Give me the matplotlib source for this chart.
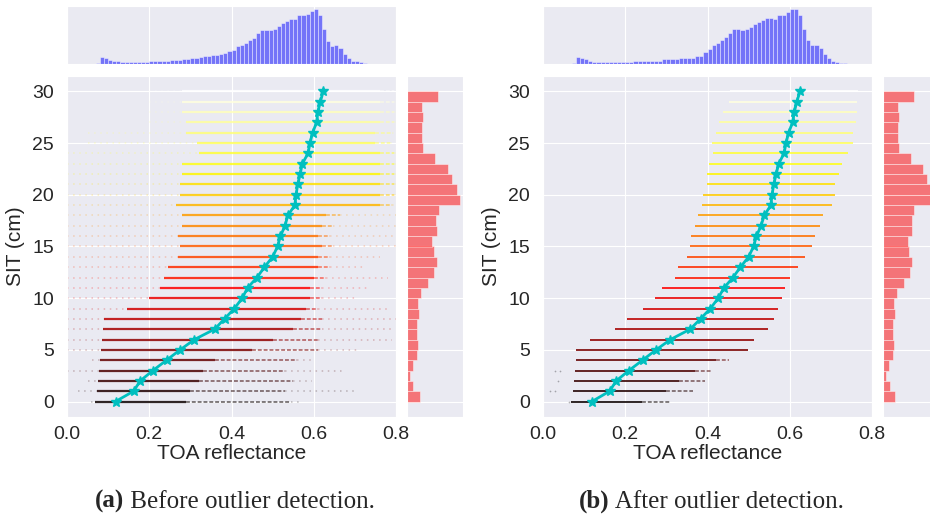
import numpy as np
import matplotlib
matplotlib.use("Agg")
import matplotlib.pyplot as plt
import seaborn as sns

# ---- data ----
sit = list(range(31))

mean_a = [0.118, 0.162, 0.178, 0.209, 0.242, 0.275, 0.310, 0.359, 0.383, 0.407,
          0.426, 0.439, 0.462, 0.480, 0.500, 0.512, 0.519, 0.530, 0.537, 0.554,
          0.557, 0.561, 0.567, 0.572, 0.586, 0.591, 0.597, 0.607, 0.610, 0.616, 0.623]
mean_b = [0.119, 0.162, 0.178, 0.209, 0.242, 0.275, 0.310, 0.358, 0.383, 0.407,
          0.426, 0.440, 0.462, 0.480, 0.500, 0.512, 0.519, 0.530, 0.538, 0.554,
          0.557, 0.561, 0.567, 0.573, 0.586, 0.591, 0.597, 0.607, 0.611, 0.617, 0.625]

# before outlier detection: sparse tail / dense core / speckled end per SIT row
a_tail_lo = [0.058, 0.027, 0.050, 0.000, 0.060, 0.0, 0.0, 0.0, 0.0, 0.0,
             0.0, 0.0, 0.0, 0.0, 0.0, 0.0, 0.0, 0.0, 0.0, 0.0,
             0.0, 0.0, 0.0, 0.0, 0.0, 0.05, 0.05, 0.20, 0.20, 0.20, 0.20]
a_core_lo = [0.068, 0.072, 0.076, 0.079, 0.080, 0.082, 0.084, 0.088, 0.090, 0.145,
             0.200, 0.225, 0.235, 0.245, 0.270, 0.275, 0.270, 0.280, 0.280, 0.266,
             0.275, 0.275, 0.280, 0.280, 0.320, 0.315, 0.290, 0.290, 0.280, 0.280, 0.280]
a_mid = [0.29, 0.30, 0.32, 0.33, 0.36, 0.45, 0.50, 0.55, 0.57, 0.58,
         0.59, 0.59, 0.60, 0.61, 0.61, 0.62, 0.61, 0.62, 0.63, 0.76,
         0.76, 0.76, 0.76, 0.76, 0.76, 0.75, 0.75, 0.76, 0.76, 0.76, 0.76]
a_core_hi = [0.545, 0.530, 0.550, 0.530, 0.560, 0.610, 0.610, 0.620, 0.620, 0.610,
             0.620, 0.620, 0.630, 0.640, 0.640, 0.648, 0.640, 0.648, 0.664, 0.790,
             0.795, 0.795, 0.795, 0.795, 0.795, 0.786, 0.790, 0.794, 0.794, 0.794, 0.794]
a_tail_hi = [0.563, 0.700, 0.595, 0.675, 0.600, 0.713, 0.790, 0.790, 0.800, 0.780,
             0.700, 0.730, 0.780, 0.720, 0.760, 0.800, 0.800, 0.800, 0.800, 0.800,
             0.800, 0.800, 0.800, 0.800, 0.800, 0.800, 0.800, 0.800, 0.800, 0.800, 0.800]

# after outlier detection: one range per SIT row
b_lo = [0.069, 0.072, 0.076, 0.077, 0.080, 0.080, 0.115, 0.175, 0.204, 0.242,
        0.272, 0.290, 0.320, 0.328, 0.349, 0.358, 0.359, 0.370, 0.376, 0.387,
        0.389, 0.398, 0.399, 0.403, 0.414, 0.410, 0.420, 0.428, 0.438, 0.452, 0.455]
b_mid = [0.24, 0.30, 0.33, 0.37, 0.42, 0.499, 0.513, 0.548, 0.562, 0.571,
         0.581, 0.588, 0.601, 0.620, 0.636, 0.653, 0.661, 0.674, 0.680, 0.703,
         0.709, 0.711, 0.720, 0.726, 0.741, 0.755, 0.755, 0.761, 0.763, 0.764, 0.765]
b_hi = [0.310, 0.365, 0.394, 0.412, 0.453, 0.499, 0.513, 0.548, 0.562, 0.571,
        0.581, 0.588, 0.601, 0.620, 0.636, 0.653, 0.661, 0.674, 0.680, 0.703,
        0.709, 0.711, 0.720, 0.726, 0.741, 0.755, 0.755, 0.761, 0.763, 0.764, 0.765]
b_out_x = [0.063, 0.018, 0.028, 0.036, 0.030, 0.042]
b_out_y = [0, 1, 1, 2, 3, 3]

# reflectance histograms, 80 bins of 0.01
refl_edges = np.linspace(0.0, 0.8, 81)
top_a = ([0.3] * 7 + [2, 21, 18, 13, 10, 8] + [7] * 7 +
         [8, 9, 9, 10, 10, 11, 12, 13, 14, 15, 17, 19, 21, 23, 25, 27, 28, 31, 33,
          40, 43, 53, 58, 63, 71, 78, 92, 103, 103, 103, 105, 113, 121, 128, 133,
          135, 145, 147, 150, 158, 165, 146, 105, 69, 53, 56, 48, 31, 18, 10, 8, 7, 2]
         + [1] * 6 + [0.5])
top_b = ([0.3] * 7 + [3, 21, 19, 15, 10] + [7] * 6 + [6] * 4 + [9] * 7 + [14] * 4 +
         [18] * 4 + [23, 23, 37, 46, 56, 63, 71, 80, 93, 104, 105, 101, 105, 110,
                     120, 125, 132, 137, 138, 135, 145, 145, 153, 162, 164, 145, 105,
                     70, 56, 56, 48, 30, 18, 10, 6, 3, 2]
         + [1] * 5 + [0.5])

# SIT histograms, bins [k, k+1) for k = 0..29
sit_edges = list(range(30))
right_a = [38, 19, 8, 17, 29, 34, 31, 31, 36, 33, 42, 63, 82, 89, 80, 75, 89, 86, 96,
           160, 149, 135, 123, 84, 48, 45, 45, 48, 45, 93]
right_b = [37, 21, 9, 19, 30, 35, 32, 32, 38, 35, 44, 65, 83, 90, 80, 76, 90, 88, 96,
           163, 152, 135, 123, 85, 49, 46, 46, 49, 46, 96]

captions = [("(a)", " Before outlier detection."), ("(b)", " After outlier detection.")]

W, H = 930, 518
cmap = plt.get_cmap("hot")
norm = plt.Normalize(0, 30)


def make_panel(fig, x0, hist_x, hist_y):
    ax = fig.add_axes([x0 / W, 101 / H, 329 / W, 341 / H])
    ax_top = fig.add_axes([x0 / W, 454 / H, 329 / W, 58 / H], sharex=ax)
    ax_rt = fig.add_axes([(x0 + 340) / W, 101 / H, 56 / W, 341 / H], sharey=ax)

    ax_top.bar(refl_edges[:-1], hist_x, width=0.01, align="edge", color="b",
               alpha=0.5, edgecolor="white", linewidth=0.6)
    ax_rt.barh(sit_edges, hist_y, height=1, align="edge", color="r",
               alpha=0.5, edgecolor="white", linewidth=0.6)
    ax_top.set_yticks([])
    ax_top.tick_params(labelbottom=False)
    ax_rt.set_xticks([])
    ax_rt.tick_params(labelleft=False)

    ax.set_xlim(0, 0.8)
    ax.set_ylim(-1.5, 31.5)
    ax.set_xticks([0.0, 0.2, 0.4, 0.6, 0.8])
    ax.set_yticks([0, 5, 10, 15, 20, 25, 30])
    ax.tick_params(axis="x", labelsize=14, pad=3)
    ax.tick_params(axis="y", labelsize=14, pad=6)
    ax.set_xlabel("TOA reflectance", fontsize=15, labelpad=1)
    ax.set_ylabel("SIT (cm)", fontsize=15, labelpad=5)
    return ax


def main():
    sns.set_style("darkgrid")
    plt.rcParams["font.family"] = ["Liberation Sans", "DejaVu Sans"]

    fig = plt.figure(figsize=(W / 100, H / 100), dpi=100)

    # (a) before
    ax = make_panel(fig, 67, top_a, right_a)
    for s, tl, cl, m, ch, th in zip(sit, a_tail_lo, a_core_lo, a_mid, a_core_hi, a_tail_hi):
        c = cmap(norm(s))
        ax.hlines(s, tl, cl, color=c, lw=1.1, alpha=0.25, linestyles=(0, (1, 3)))
        ax.hlines(s, ch, th, color=c, lw=1.1, alpha=0.25, linestyles=(0, (1, 3)))
        ax.hlines(s, m, ch, color=c, lw=1.4, alpha=0.5, linestyles=(0, (2, 1)))
        ax.hlines(s, cl, m, color=c, lw=1.6, alpha=0.85)
    ax.plot(mean_a, sit, color="c", lw=2, marker="*", markersize=7)

    # (b) after
    ax = make_panel(fig, 543, top_b, right_b)
    for s, lo, m, hi in zip(sit, b_lo, b_mid, b_hi):
        c = cmap(norm(s))
        ax.hlines(s, m, hi, color=c, lw=1.4, alpha=0.5, linestyles=(0, (2, 1)))
        ax.hlines(s, lo, m, color=c, lw=1.4, alpha=0.85)
    ax.scatter(b_out_x, b_out_y, s=1.5, color="black", alpha=0.3, linewidths=0)
    ax.plot(mean_b, sit, color="c", lw=2, marker="*", markersize=7)

    for (tag, text), xc in zip(captions, [95, 579]):
        t = fig.text(xc / W, 0.010, tag, fontfamily="Liberation Serif",
                     fontweight="bold", fontsize=18, va="bottom")
        ax.annotate(text, xy=(1, 0), xycoords=t, va="bottom", ha="left",
                    fontfamily="Liberation Serif", fontsize=18, annotation_clip=False)

    fig.savefig("out.png", dpi=100, facecolor="white")


if __name__ == "__main__":
    main()
